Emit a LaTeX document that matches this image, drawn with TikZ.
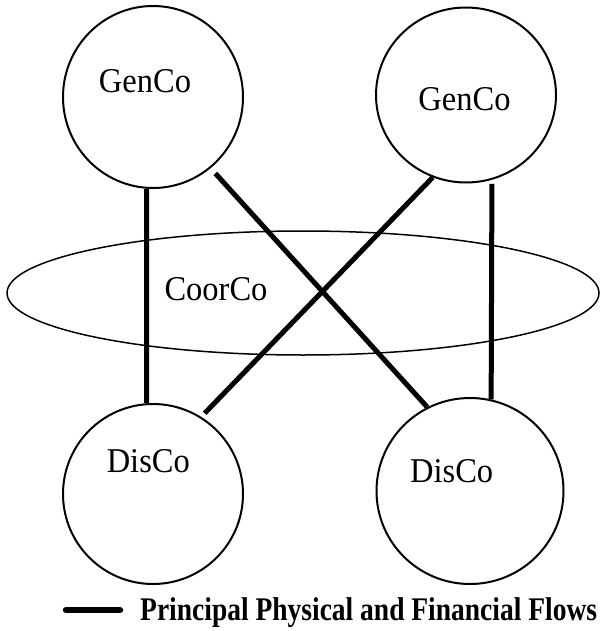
\documentclass[tikz,border=0pt]{standalone}
\usepackage{fontspec}
\setmainfont{Liberation Serif}
\usetikzlibrary{shapes.geometric}
\newcommand{\tallname}[1]{\scalebox{1}[1.07]{#1}}
\newcommand{\talllegend}[1]{\scalebox{1}[1.2]{#1}}
\begin{document}
\begin{tikzpicture}[x=1pt,y=-1pt,
  company/.style={draw, ellipse, line width=2pt, inner sep=0pt},
  coordco/.style={draw, ellipse, line width=1.5pt, inner sep=0pt,
    minimum width=592pt, minimum height=124pt},
  compname/.style={font=\fontsize{32.5}{36}\selectfont, anchor=base, inner sep=0pt},
  flow/.style={line width=5pt},
  flowsample/.style={line width=6.5pt, line cap=round},
  legendtext/.style={font=\fontsize{27.5}{30}\selectfont\bfseries,
    anchor=base west, inner sep=0pt}]
\useasboundingbox (0,0) rectangle (600,631);

% coordinating company spanning the middle
\node[coordco] (cc) at (303,293) {};
\node[compname] (cctext) at (216,300) {\tallname{CoorCo}};

% generating companies
\node[company, minimum width=180pt, minimum height=182pt] (gl) at (153,97) {};
\node[company, minimum width=180pt, minimum height=175pt] (gr) at (466,95) {};
\node[compname] (gltext) at (145,92.7) {\tallname{GenCo}};
\node[compname] (grtext) at (464.5,111) {\tallname{GenCo}};

% distribution companies
\node[company, minimum width=180pt, minimum height=180pt] (dl) at (153,494) {};
\node[company, minimum width=187pt, minimum height=186pt] (dr) at (470,491) {};
\node[compname] (dltext) at (148.3,472.7) {\tallname{DisCo}};
\node[compname] (drtext) at (451.7,482.7) {\tallname{DisCo}};

% principal flows
\draw[flow] (gl.-94.5) -- (dl.94.5);
\draw[flow, shorten <=4pt] (gr.-73.35) -- (dr.77);
\draw[flow, shorten <=7pt] (gl.-51.7) -- (dr.117.4);
\draw[flow, shorten >=5pt] (gr.-112.2) -- (dl.58.3);

% legend
\coordinate (ls) at (66,610);
\coordinate (le) at (120,610);
\draw[flowsample] (ls) -- (le);
\node[legendtext] (legend) at (140,620.5) {\talllegend{Principal Physical and Financial Flows}};
\end{tikzpicture}
\end{document}
